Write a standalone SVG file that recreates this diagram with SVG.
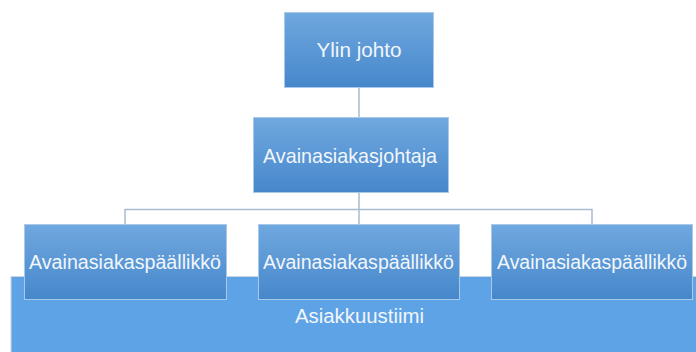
<svg xmlns="http://www.w3.org/2000/svg" width="696" height="352" viewBox="0 0 696 352">
  <defs>
    <linearGradient id="boxFill" x1="0" y1="0" x2="0" y2="1">
      <stop offset="0" stop-color="#70a8df"/>
      <stop offset="1" stop-color="#4687cb"/>
    </linearGradient>
  </defs>
  <style>
    .box { fill: url(#boxFill); stroke: #a9c9ea; stroke-width: 1; }
    .team { fill: #5ea3e6; stroke: #c9d5e2; stroke-width: 1; }
    .label { font-family: "Liberation Sans", Arial, sans-serif; fill: #f2f6fb; text-anchor: middle; }
    .conn { fill: none; stroke: #a9bbd0; stroke-width: 1.5; }
  </style>

  <!-- team background band -->
  <g id="team">
    <rect class="team" x="11" y="276.5" width="690" height="80"/>
    <text class="label" x="359.5" y="323" font-size="20" textLength="129" lengthAdjust="spacingAndGlyphs">Asiakkuustiimi</text>
  </g>

  <!-- connectors -->
  <g id="connectors">
    <path class="conn" d="M359 87 V117"/>
    <path class="conn" d="M359 192 V209.5"/>
    <path class="conn" d="M125 224 V209.5 H592 V224"/>
    <path class="conn" d="M359 209.5 V224" stroke="#b5cde4"/>
  </g>

  <g id="top">
    <rect class="box" x="284.5" y="12.5" width="149" height="75"/>
    <text class="label" x="359" y="56.5" font-size="21" textLength="85" lengthAdjust="spacingAndGlyphs">Ylin johto</text>
  </g>

  <g id="director">
    <rect class="box" x="253.5" y="117.5" width="195" height="75"/>
    <text class="label" x="350" y="162.5" font-size="21" textLength="174" lengthAdjust="spacingAndGlyphs">Avainasiakasjohtaja</text>
  </g>

  <g id="manager1">
    <rect class="box" x="24.5" y="224.5" width="202" height="75"/>
    <text class="label" x="125" y="268.5" font-size="19.5" textLength="192" lengthAdjust="spacingAndGlyphs">Avainasiakaspäällikkö</text>
  </g>

  <g id="manager2">
    <rect class="box" x="258.5" y="224.5" width="201" height="75"/>
    <text class="label" x="358.5" y="268.5" font-size="19.5" textLength="191" lengthAdjust="spacingAndGlyphs">Avainasiakaspäällikkö</text>
  </g>

  <g id="manager3">
    <rect class="box" x="491.5" y="224.5" width="201" height="75"/>
    <text class="label" x="592" y="268.5" font-size="19.5" textLength="190" lengthAdjust="spacingAndGlyphs">Avainasiakaspäällikkö</text>
  </g>
</svg>
